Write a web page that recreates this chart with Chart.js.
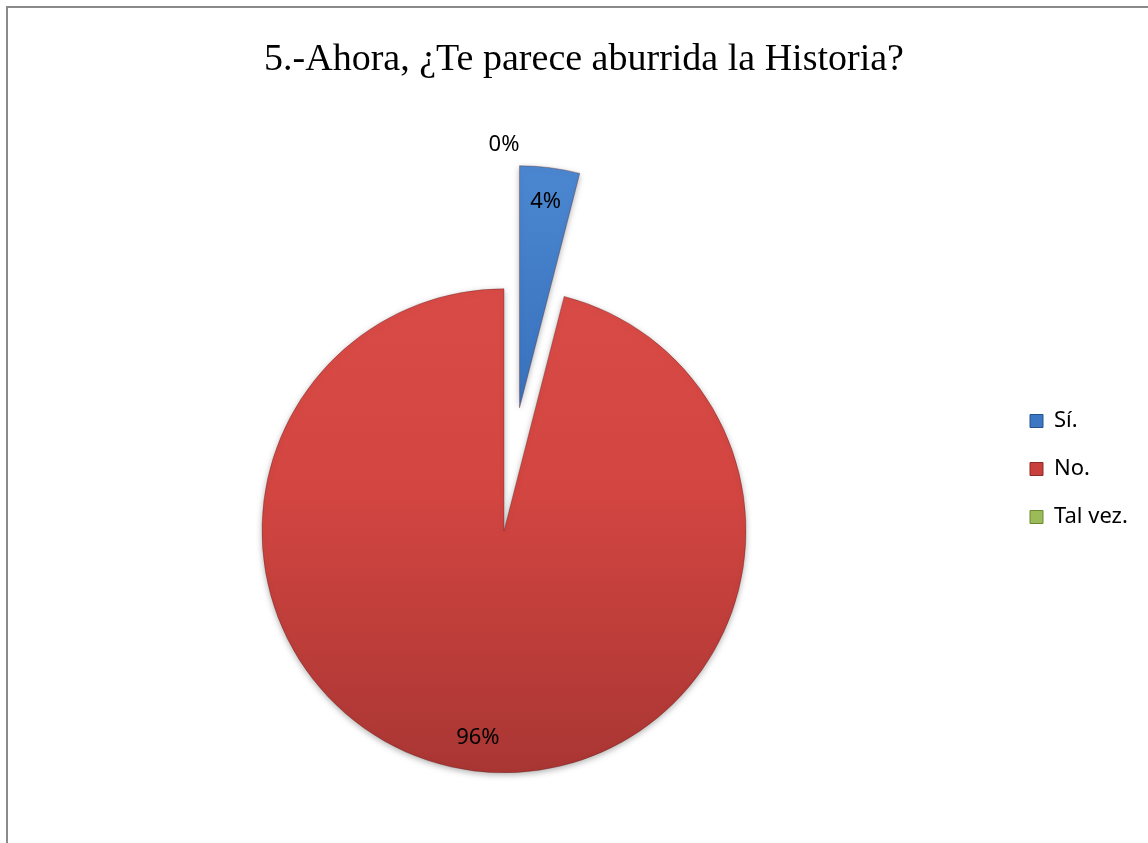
<!DOCTYPE html>
<html lang="es">
<head>
    <meta charset="UTF-8">
    <title>5.-Ahora, ¿Te parece aburrida la Historia?</title>
    <script src="https://cdn.jsdelivr.net/npm/chart.js"></script>
    <style>
        html, body {
            margin: 0;
            padding: 0;
            background: #fff;
            overflow: hidden;
        }

        .frame {
            position: absolute;
            left: 6px;
            top: 6px;
            width: 1300px;
            height: 1000px;
            border-left: 2px solid #8a8a8a;
            border-top: 2px solid #8a8a8a;
        }

        #historyChart {
            position: absolute;
            left: 0;
            top: 0;
        }
    </style>
</head>
<body>
    <div class="frame"></div>
    <canvas id="historyChart" width="1164" height="843"></canvas>
    <script>
        // datos
        var categories = ['Sí.', 'No.', 'Tal vez.'];
        var percentages = [4, 96, 0];

        // colores tipo Office (arriba, medio, abajo)
        var topColors = ['#5592da', '#dd4e4a', '#a9c866'];
        var midColors = ['#3b74c0', '#d24541', '#9bbb59'];
        var bottomColors = ['#2b5ca3', '#a93633', '#7a9a3c'];
        var legendColors = ['#3d77c4', '#c83f3c', '#9bbb59'];
        var legendBorders = ['#25528f', '#8e2a28', '#6b8a30'];

        var pieRadius = 242;
        var legendWidth = 160;
        var explode = [124, 0, 0]; // separacion de cada porcion en px

        function sliceGradient(context) {
            var chart = context.chart;
            var area = chart.chartArea;
            var i = context.dataIndex;
            if (!area) {
                return midColors[i];
            }
            var cy = (area.top + area.bottom) / 2;
            var g = chart.ctx.createLinearGradient(0, cy - pieRadius - 125, 0, cy + pieRadius);
            g.addColorStop(0, topColors[i]);
            g.addColorStop(0.55, midColors[i]);
            g.addColorStop(1, bottomColors[i]);
            return g;
        }

        function shiftedCenter(arc, i) {
            var mid = (arc.startAngle + arc.endAngle) / 2;
            var d = explode[i] || 0;
            return { x: arc.x + Math.cos(mid) * d, y: arc.y + Math.sin(mid) * d };
        }

        var pieExtras = {
            id: 'pieExtras',
            afterInit: function(chart) {
                var legend = chart.legend;
                var fit = legend.fit.bind(legend);
                legend.fit = function() {
                    fit();
                    this.width = legendWidth;
                };
            },
            // dibuja cada porcion desplazada (explode) con sombra suave
            beforeDatasetDraw: function(chart, args) {
                var c = chart.ctx;
                args.meta.data.forEach(function(arc, i) {
                    var p = shiftedCenter(arc, i);
                    c.save();
                    c.shadowColor = 'rgba(0, 0, 0, 0.3)';
                    c.shadowBlur = 6;
                    c.shadowOffsetY = 2;
                    c.translate(p.x - arc.x, p.y - arc.y);
                    arc.draw(c, chart.chartArea);
                    c.restore();
                });
                return false;
            },
            afterDatasetsDraw: function(chart) {
                var ctx = chart.ctx;
                var meta = chart.getDatasetMeta(0);
                var values = chart.data.datasets[0].data;
                var maxExplode = Math.max.apply(null, explode);
                ctx.save();
                ctx.font = '22px "Noto Sans"';
                ctx.fillStyle = '#000';
                ctx.textAlign = 'center';
                ctx.textBaseline = 'middle';
                meta.data.forEach(function(arc, i) {
                    var v = values[i];
                    var c = shiftedCenter(arc, i);
                    var angle = (arc.startAngle + arc.endAngle) / 2;
                    var dist = arc.outerRadius * 0.86;
                    if (v === 0) {
                        // porcion vacia: etiqueta fuera del pastel
                        dist = arc.outerRadius + maxExplode + 20;
                    }
                    ctx.fillText(v + '%', c.x + Math.cos(angle) * dist, c.y + Math.sin(angle) * dist);
                });
                ctx.restore();
            }
        };

        var ctx = document.getElementById('historyChart').getContext('2d');
        new Chart(ctx, {
            type: 'pie',
            data: {
                labels: categories,
                datasets: [{
                    data: percentages,
                    backgroundColor: sliceGradient,
                    borderColor: 'rgba(90, 30, 30, 0.35)',
                    borderWidth: 1
                }]
            },
            options: {
                responsive: false,
                animation: false,
                events: [],
                radius: pieRadius,
                layout: {
                    padding: { left: 4, right: 0, top: 0, bottom: 0 }
                },
                plugins: {
                    title: {
                        display: true,
                        text: '5.-Ahora, ¿Te parece aburrida la Historia?',
                        color: '#000',
                        font: { family: '"Liberation Serif", serif', size: 38, weight: 'normal' },
                        padding: { top: 37, bottom: 136 }
                    },
                    legend: {
                        position: 'right',
                        align: 'start',
                        title: {
                            display: true,
                            text: '',
                            font: { size: 10, lineHeight: 1 },
                            padding: { top: 374, bottom: 0 }
                        },
                        labels: {
                            color: '#000',
                            font: { family: '"Noto Sans", sans-serif', size: 22 },
                            boxWidth: 13,
                            boxHeight: 13,
                            padding: 26,
                            generateLabels: function(chart) {
                                return chart.data.labels.map(function(label, i) {
                                    return {
                                        text: label,
                                        fillStyle: legendColors[i],
                                        strokeStyle: legendBorders[i],
                                        lineWidth: 1,
                                        fontColor: '#000',
                                        hidden: false,
                                        index: i
                                    };
                                });
                            }
                        }
                    },
                    tooltip: { enabled: false }
                }
            },
            plugins: [pieExtras]
        });
    </script>
</body>
</html>
